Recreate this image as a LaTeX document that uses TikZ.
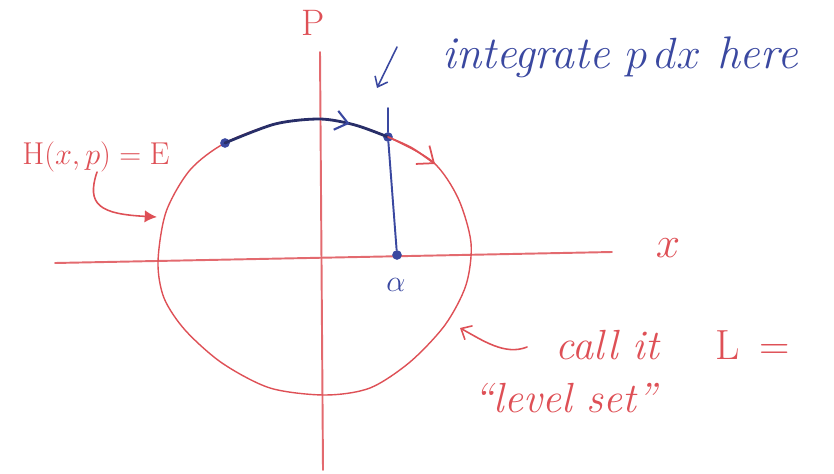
\documentclass[tikz,border=0pt]{standalone}
\usepackage{fontspec}
\usepackage{amssymb}
\usepackage{mathtools}
\usetikzlibrary{arrows.meta,decorations.markings}

\definecolor{penred}{RGB}{222,80,86}
\definecolor{penblue}{RGB}{58,72,160}
\definecolor{pennavy}{RGB}{40,46,104}

\begin{document}
\begin{tikzpicture}[
    x=0.02cm, y=0.02cm, % one unit = one pixel of the sketch
    line cap=round, line join=round,
    axis/.style={draw=penred!85, line width=1.1pt},
    levelset/.style={draw=penred, line width=0.8pt},
    orbit/.style={draw=pennavy, line width=1.6pt},
    dot/.style={circle, fill=penblue, inner sep=0pt, minimum size=5.5pt},
    lbl/.style={inner sep=0pt}
]
\useasboundingbox (0,0) rectangle (834,-473);

% Define the axes
\coordinate (xleft) at (55,-263);
\coordinate (xright) at (612,-252);
\coordinate (ptop) at (320,-52);
\coordinate (pbottom) at (323,-470);
\draw[axis] (xleft) -- (xright);
\draw[axis] (ptop) -- (pbottom);

% Define the level set curve
\draw[levelset] plot[smooth cycle] coordinates {
    (158,-262) (166,-212) (190,-170) (225,-143) (275,-124) (320,-119)
    (355,-125) (388,-137) (433,-162) (458,-198) (471,-243) (466,-285)
    (445,-325) (410,-362) (370,-388) (325,-395) (270,-388) (222,-363)
    (185,-330) (164,-298)};

% Define the points
\node[dot] (start) at (225,-143) {};
\node[dot] (cross) at (388,-137) {};
\node[dot] (foot) at (397,-255) {};
\coordinate (tick) at (388,-108);

% Define the orbit pieces
\draw[orbit, postaction={decorate}, decoration={markings,
    mark=at position 0.76 with {\arrow[penblue, line width=1.2pt]{Straight Barb[length=7pt,width=11pt]}}}]
    plot[smooth] coordinates {(225,-143) (275,-124) (320,-119) (355,-125) (388,-137)};
\draw[levelset, line width=1pt, -{Straight Barb[length=8pt,width=13pt]}]
    plot[smooth] coordinates {(388,-137) (412,-148) (435,-164)};
\draw[draw=penblue, line width=1.1pt] (tick) -- (cross) -- (foot);

% Define the labels
\node[lbl, text=penred, font=\fontsize{21}{25}\selectfont] (plab) at (313,-23) {P};
\node[lbl, text=penred, font=\fontsize{24}{28}\selectfont] (xlab) at (668,-248) {$x$};
\node[lbl, text=penblue, font=\fontsize{16}{20}\selectfont] (alab) at (396,-285) {$\alpha$};
\node[lbl, text=penblue, font=\fontsize{26}{30}\selectfont\itshape] (integ) at (620,-57) {integrate $p\,dx$ here};
\node[lbl, text=penred, font=\fontsize{18}{22}\selectfont] (hlab) at (96,-157) {$\mathrm{H}(x,p)=\mathrm{E}$};
\node[lbl, text=penred, font=\fontsize{24}{28}\selectfont\itshape] (call) at (673,-345) {call it\quad\ \upshape L\ \,=};
\node[lbl, text=penred, font=\fontsize{24}{28}\selectfont\itshape] (level) at (565,-398) {``level set''};

% Define the pointers
\coordinate (itail) at (397,-47);
\coordinate (itip) at (377,-88);
\coordinate (hsrc) at (97,-172);
\coordinate (htip) at (157,-217);
\coordinate (csrc) at (527,-347);
\coordinate (ctip) at (460,-328);
\draw[draw=penblue, line width=0.9pt, -{Straight Barb[length=5pt,width=8pt]}] (itail) -- (itip);
\draw[draw=penred, line width=0.9pt, -{Latex[length=7pt,width=7pt]}]
    (hsrc) .. controls (86,-205) and (100,-214) .. (htip);
\draw[draw=penred, line width=0.9pt, -{Straight Barb[length=5pt,width=9pt]}]
    (csrc) .. controls (505,-356) and (482,-340) .. (ctip);

\end{tikzpicture}
\end{document}
